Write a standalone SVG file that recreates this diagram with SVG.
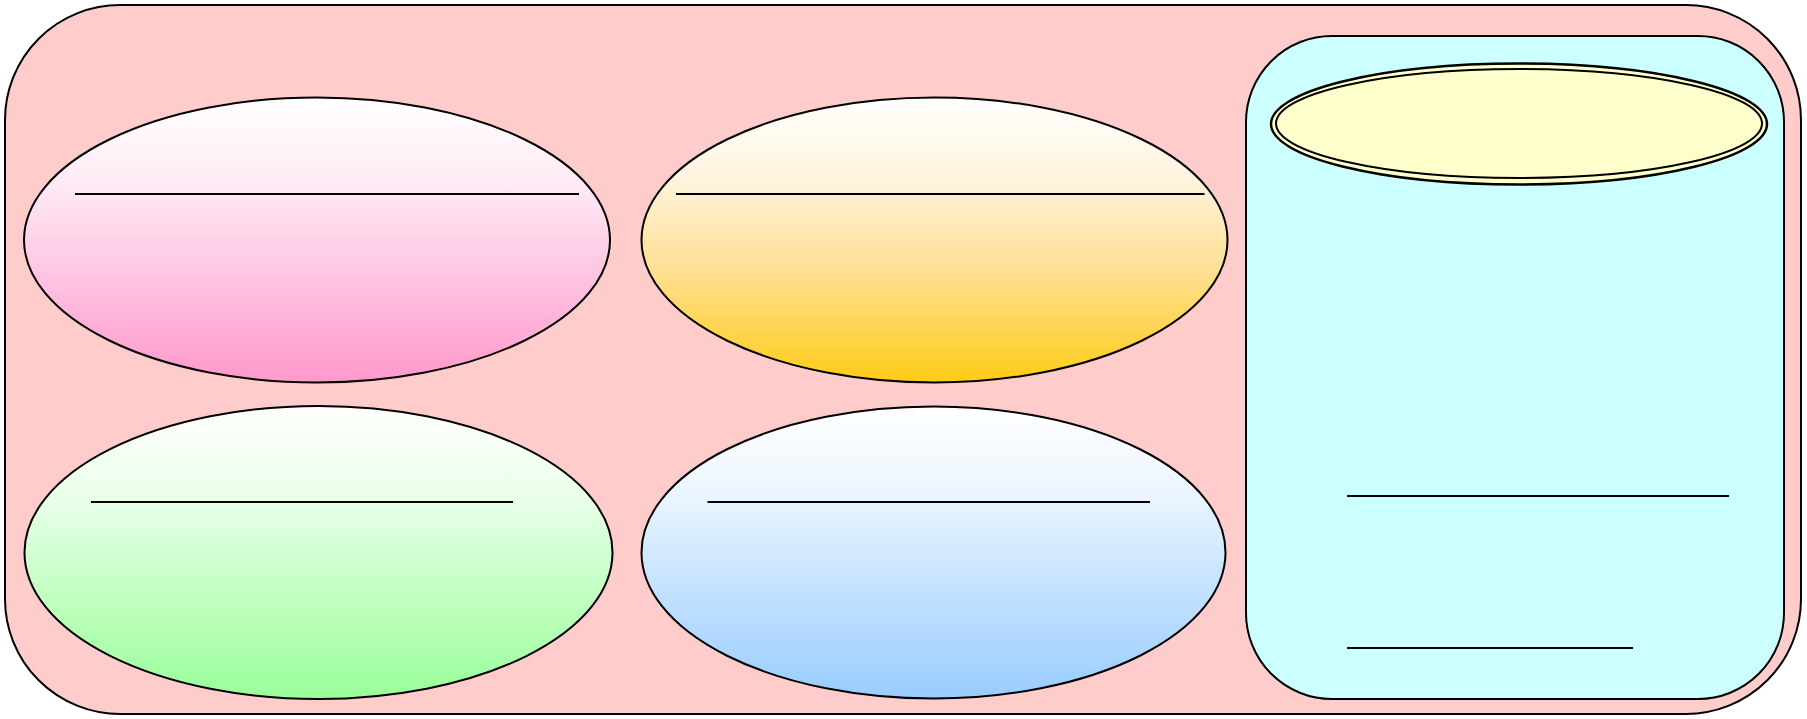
<svg xmlns="http://www.w3.org/2000/svg" width="1807" height="719" viewBox="0 0 1807 719">
<style>
.sh{stroke:#000;stroke-width:2}
.ln{stroke:#000;stroke-width:2;fill:none}
</style>
<defs>
<linearGradient id="gPink" x1="0" y1="0" x2="0" y2="1"><stop offset="0" stop-color="#ffffff"/><stop offset="0.3" stop-color="#ffebf5"/><stop offset="0.6" stop-color="#ffc7e3"/><stop offset="1" stop-color="#ff99cc"/></linearGradient>
<linearGradient id="gOrange" x1="0" y1="0" x2="0" y2="1"><stop offset="0" stop-color="#ffffff"/><stop offset="0.3" stop-color="#fff3dc"/><stop offset="0.6" stop-color="#ffdf94"/><stop offset="1" stop-color="#ffcc17"/></linearGradient>
<linearGradient id="gGreen" x1="0" y1="0" x2="0" y2="1"><stop offset="0" stop-color="#ffffff"/><stop offset="0.3" stop-color="#ebffeb"/><stop offset="0.6" stop-color="#c7ffc7"/><stop offset="1" stop-color="#99ff99"/></linearGradient>
<linearGradient id="gBlue" x1="0" y1="0" x2="0" y2="1"><stop offset="0" stop-color="#ffffff"/><stop offset="0.3" stop-color="#ebf5ff"/><stop offset="0.6" stop-color="#c7e3ff"/><stop offset="1" stop-color="#99ccff"/></linearGradient>
</defs>
<g id="outer">
<rect class="sh" x="5" y="5" width="1796" height="709" rx="115" ry="115" fill="#ffcccc"/>
</g>
<g id="pinkNode">
<ellipse class="sh" cx="317" cy="240" rx="293" ry="142.5" fill="url(#gPink)"/>
<line class="ln" x1="75" y1="194" x2="579" y2="194"/>
</g>
<g id="orangeNode">
<ellipse class="sh" cx="934.5" cy="240" rx="293" ry="142.5" fill="url(#gOrange)"/>
<line class="ln" x1="676" y1="194" x2="1204.5" y2="194"/>
</g>
<g id="greenNode">
<ellipse class="sh" cx="318.5" cy="552.5" rx="294" ry="146.5" fill="url(#gGreen)"/>
<line class="ln" x1="91" y1="502" x2="513" y2="502"/>
</g>
<g id="blueNode">
<ellipse class="sh" cx="933.5" cy="552.5" rx="292" ry="146" fill="url(#gBlue)"/>
<line class="ln" x1="707.5" y1="502" x2="1150" y2="502"/>
</g>
<g id="cyanPanel">
<rect class="sh" x="1246" y="36" width="538" height="663" rx="86" ry="86" fill="#ccffff"/>
<line class="ln" x1="1347" y1="496" x2="1729" y2="496"/>
<line class="ln" x1="1347" y1="648" x2="1633" y2="648"/>
</g>
<g id="yellowNode">
<ellipse cx="1519" cy="124" rx="248" ry="60.5" fill="#ffffcc" stroke="#000" stroke-width="2.5"/>
<ellipse cx="1519" cy="123.5" rx="243" ry="54.5" fill="#ffffcc" stroke="#000" stroke-width="2"/>
</g>
<g id="connectors"></g>
</svg>
